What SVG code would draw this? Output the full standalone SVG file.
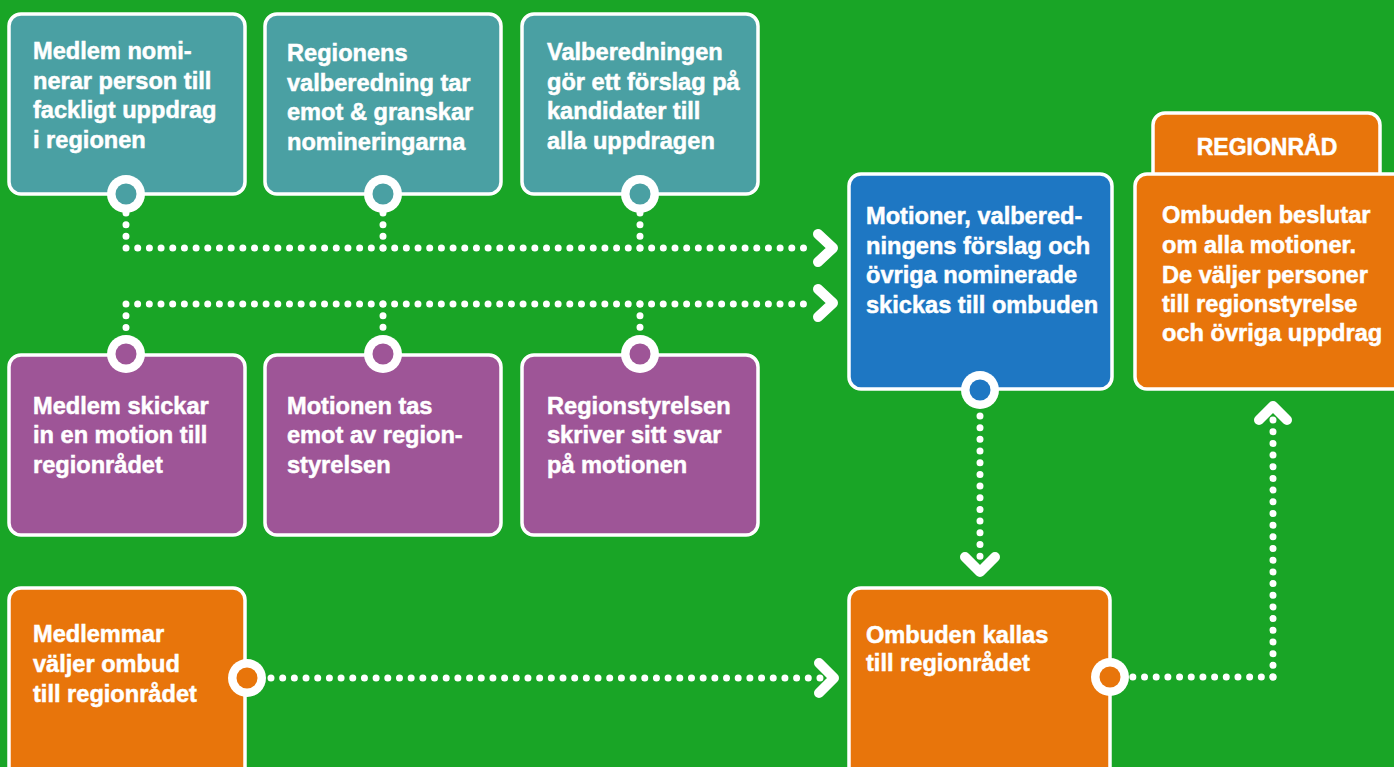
<svg xmlns="http://www.w3.org/2000/svg" width="1394" height="767" viewBox="0 0 1394 767">
<style>
.box{stroke:#fff;stroke-width:3.5}
.teal{fill:#4aa0a3}
.purple{fill:#9e5597}
.blue{fill:#1e77c3}
.orange{fill:#e8750b}
.t{font-family:"Liberation Sans",Arial,sans-serif;font-weight:bold;font-size:23.6px;fill:#fff;stroke:#fff;stroke-width:0.5}
.ring{fill:#fff}
.dots{fill:none;stroke:#fff;stroke-width:7;stroke-linecap:round;stroke-dasharray:0 11.68}
.chev{fill:none;stroke:#fff;stroke-width:10;stroke-linecap:round;stroke-linejoin:round}
</style>
<rect width="1394" height="767" fill="#19a526"/>

<g id="connectors">
<path class="dots" d="M126 213 V248 H815"/>
<path class="dots" d="M383 248 V212"/>
<path class="dots" d="M640 248 V212"/>
<path class="chev" d="M818 234 L833 248 L818 262"/>
<path class="dots" d="M126 327.4 V304 H815"/>
<path class="dots" d="M383 304 V328"/>
<path class="dots" d="M640 304 V328"/>
<path class="chev" d="M818 289 L833 303 L818 317"/>
<path class="dots" d="M980 416 V560"/>
<path class="chev" d="M965 557 L980 572 L995 557"/>
<path class="dots" d="M271 678 H821"/>
<path class="chev" d="M819 663 L834 678 L819 693"/>
<path class="dots" d="M1273 677 H1131"/>
<path class="dots" d="M1273 677 V420"/>
<path class="chev" d="M1259 420 L1273 406 L1287 420"/>
</g>

<g id="n1">
<rect class="box teal" x="9" y="14" width="236" height="180" rx="12"/>
<circle class="ring" cx="126" cy="194" r="19"/><circle class="teal" cx="126" cy="194" r="10.5"/>
<text class="t"><tspan x="33" y="59">Medlem nomi-</tspan><tspan x="33" y="89">nerar person till</tspan><tspan x="33" y="118">fackligt uppdrag</tspan><tspan x="33" y="148">i regionen</tspan></text>
</g>
<g id="n2">
<rect class="box teal" x="265" y="14" width="236" height="180" rx="12"/>
<circle class="ring" cx="383" cy="194" r="19"/><circle class="teal" cx="383" cy="194" r="10.5"/>
<text class="t"><tspan x="287" y="61">Regionens</tspan><tspan x="287" y="91">valberedning tar</tspan><tspan x="287" y="120">emot &amp; granskar</tspan><tspan x="287" y="150">nomineringarna</tspan></text>
</g>
<g id="n3">
<rect class="box teal" x="522" y="14" width="236" height="180" rx="12"/>
<circle class="ring" cx="640" cy="194" r="19"/><circle class="teal" cx="640" cy="194" r="10.5"/>
<text class="t"><tspan x="547" y="60">Valberedningen</tspan><tspan x="547" y="90">gör ett förslag på</tspan><tspan x="547" y="119">kandidater till</tspan><tspan x="547" y="149">alla uppdragen</tspan></text>
</g>

<g id="n4">
<rect class="box purple" x="9" y="355" width="236" height="180" rx="12"/>
<circle class="ring" cx="126" cy="354" r="19"/><circle class="purple" cx="126" cy="354" r="10.5"/>
<text class="t"><tspan x="33" y="414">Medlem skickar</tspan><tspan x="33" y="443">in en motion till</tspan><tspan x="33" y="473">regionrådet</tspan></text>
</g>
<g id="n5">
<rect class="box purple" x="265" y="355" width="236" height="180" rx="12"/>
<circle class="ring" cx="383" cy="354" r="19"/><circle class="purple" cx="383" cy="354" r="10.5"/>
<text class="t"><tspan x="287" y="414">Motionen tas</tspan><tspan x="287" y="443">emot av region-</tspan><tspan x="287" y="473">styrelsen</tspan></text>
</g>
<g id="n6">
<rect class="box purple" x="522" y="355" width="236" height="180" rx="12"/>
<circle class="ring" cx="640" cy="354" r="19"/><circle class="purple" cx="640" cy="354" r="10.5"/>
<text class="t"><tspan x="547" y="414">Regionstyrelsen</tspan><tspan x="547" y="443">skriver sitt svar</tspan><tspan x="547" y="473">på motionen</tspan></text>
</g>

<g id="n7">
<rect class="box blue" x="849" y="174" width="263" height="215" rx="12"/>
<circle class="ring" cx="980" cy="390" r="19"/><circle class="blue" cx="980" cy="390" r="10.5"/>
<text class="t"><tspan x="866" y="224">Motioner, valbered-</tspan><tspan x="866" y="254">ningens förslag och</tspan><tspan x="866" y="283">övriga nominerade</tspan><tspan x="866" y="313">skickas till ombuden</tspan></text>
</g>

<g id="n8">
<rect class="box orange" x="1153" y="113" width="227" height="90" rx="12"/>
<text class="t" x="1267" y="155" text-anchor="middle" style="font-size:23px">REGIONRÅD</text>
<rect class="box orange" x="1135" y="174" width="275" height="215" rx="12"/>
<text class="t"><tspan x="1162" y="223">Ombuden beslutar</tspan><tspan x="1162" y="253">om alla motioner.</tspan><tspan x="1162" y="283">De väljer personer</tspan><tspan x="1162" y="312">till regionstyrelse</tspan><tspan x="1162" y="341">och övriga uppdrag</tspan></text>
</g>

<g id="n9">
<rect class="box orange" x="9" y="588" width="236" height="200" rx="12"/>
<circle class="ring" cx="247" cy="678" r="19"/><circle class="orange" cx="247" cy="678" r="10.5"/>
<text class="t"><tspan x="33" y="642">Medlemmar</tspan><tspan x="33" y="672">väljer ombud</tspan><tspan x="33" y="702">till regionrådet</tspan></text>
</g>

<g id="n10">
<rect class="box orange" x="849" y="588" width="261" height="200" rx="12"/>
<circle class="ring" cx="1110" cy="677" r="19"/><circle class="orange" cx="1110" cy="677" r="10.5"/>
<text class="t"><tspan x="866" y="643">Ombuden kallas</tspan><tspan x="866" y="671">till regionrådet</tspan></text>
</g>
</svg>
